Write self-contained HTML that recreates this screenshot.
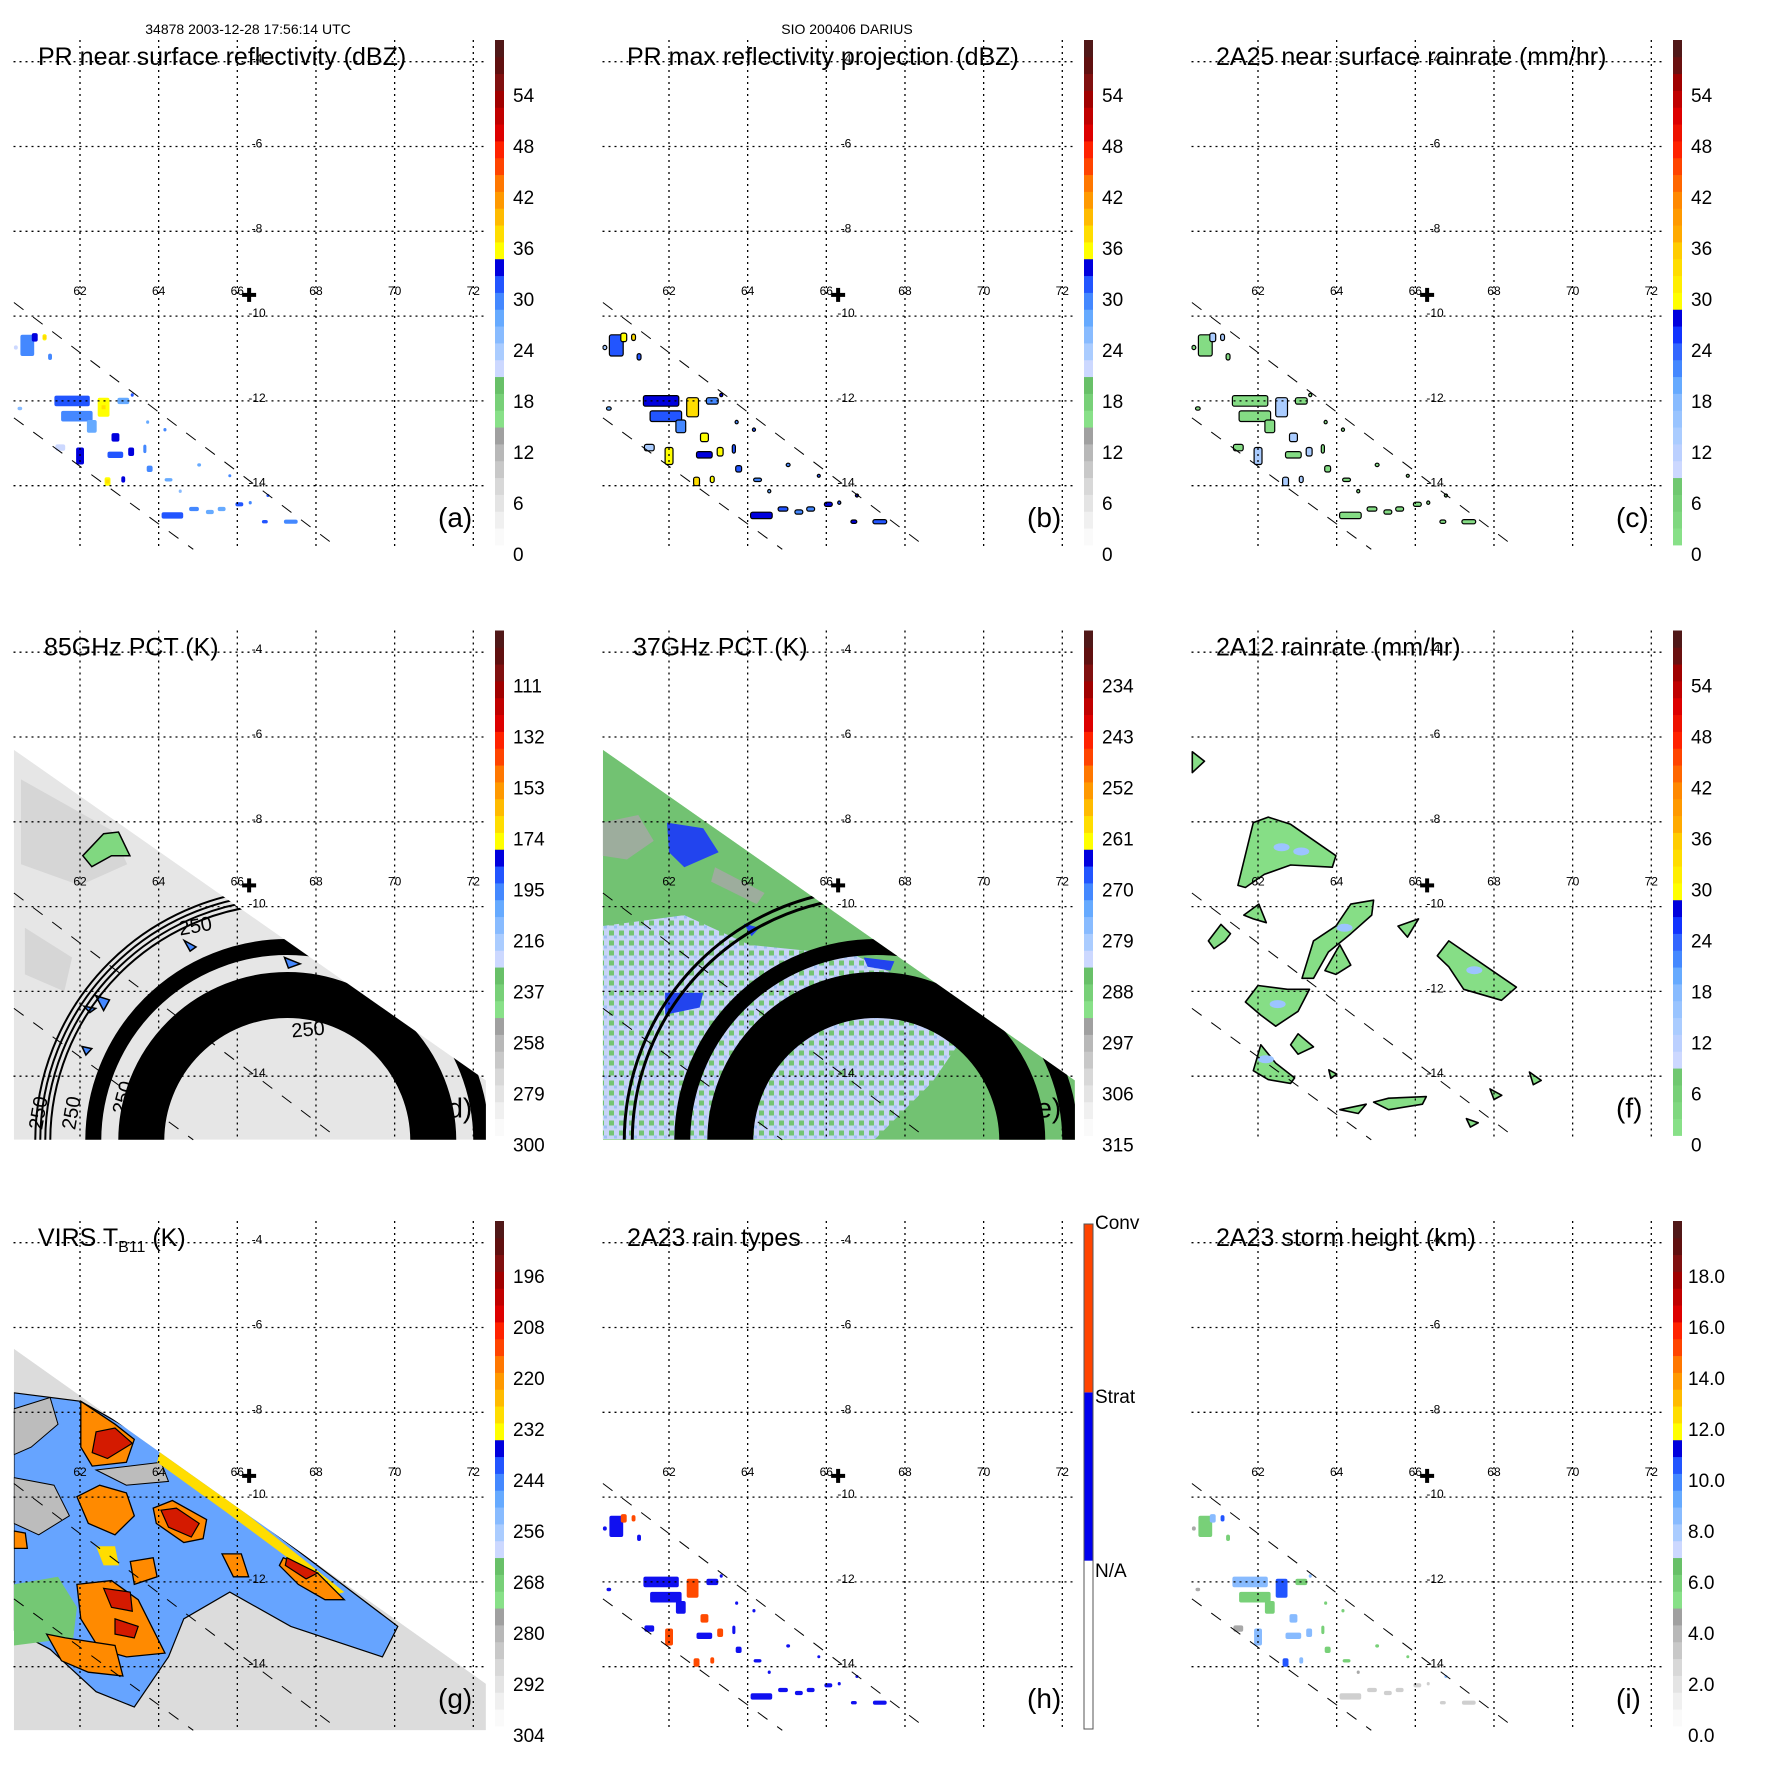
<!DOCTYPE html>
<html><head><meta charset="utf-8">
<style>
html,body{margin:0;padding:0;background:#fff;}
svg{display:block;}
text{font-family:"Liberation Sans","DejaVu Sans",sans-serif;}
</style></head>
<body>
<svg id="fig" width="1771" height="1771" viewBox="0 0 1771 1771" xmlns="http://www.w3.org/2000/svg">
<rect x="0" y="0" width="1771" height="1771" fill="#fff"/>
<text x="248" y="34" font-size="14" text-anchor="middle">34878 2003-12-28 17:56:14 UTC</text>
<text x="847" y="34" font-size="14" text-anchor="middle">SIO 200406 DARIUS</text>
<defs>
<pattern id="speck" width="10" height="10" patternUnits="userSpaceOnUse">
<rect width="10" height="10" fill="#c8d4f8"/><rect width="5" height="5" fill="#74c474"/><rect x="5" y="5" width="3" height="3" fill="#9cc0f4"/>
</pattern>
</defs>
</svg>
<script>
// ---------- data ----------
const panelLetters = ['a','b','c','d','e','f','g','h','i'];
const panelTitles = ['PR near surface reflectivity (dBZ)','PR max reflectivity projection (dBZ)','2A25 near surface rainrate (mm/hr)','85GHz PCT (K)','37GHz PCT (K)','2A12 rainrate (mm/hr)','VIRS T','2A23 rain types','2A23 storm height (km)'];
const lonTicks = [62,64,66,68,70,72];
const latTicks = [-4,-6,-8,-10,-12,-14];
const cbA = ['0','6','12','18','24','30','36','42','48','54'];
const cbD = ['300','279','258','237','216','195','174','153','132','111'];
const cbE = ['315','306','297','288','279','270','261','252','243','234'];
const cbG = ['304','292','280','268','256','244','232','220','208','196'];
const cbI = ['0.0','2.0','4.0','6.0','8.0','10.0','12.0','14.0','16.0','18.0'];
const cbH = ['N/A','Strat','Conv'];
const centerLon = 66.3, centerLat = -9.5;
const swathUpper = [[60.32,-9.68],[68.47,-15.4]];
const swathLower = [[60.32,-12.4],[64.88,-15.5]];
// PR rain cells: lon, lat, lon extent, lat extent, dBZ
const rainLon = [60.66,60.85,61.1,61.8,62.6,61.92,62.3,63.1,62.9,62.9,63.3,62.0,61.5,62.7,63.1,63.65,63.77,64.25,64.35,64.9,65.3,65.6,66.05,66.33,66.7,67.36,65.03,64.55,63.33,60.37,61.24,60.47,64.16,65.8,66.78,63.72];
const rainLat = [-10.69,-10.5,-10.5,-12.0,-12.15,-12.36,-12.6,-12.0,-12.86,-13.27,-13.2,-13.3,-13.1,-13.9,-13.85,-13.13,-13.6,-13.86,-14.7,-14.55,-14.62,-14.55,-14.44,-14.4,-14.85,-14.85,-13.51,-14.13,-11.86,-10.74,-10.96,-12.18,-12.68,-13.76,-14.22,-12.5];
const rainDLon = [.35,.15,.1,.9,.3,.8,.25,.3,.2,.4,.15,.2,.25,.15,.1,.08,.15,.2,.55,.25,.2,.2,.2,.08,.15,.35,.1,.08,.08,.1,.1,.12,.08,.06,.08,.08];
const rainDLat = [.5,.2,.15,.25,.45,.25,.3,.15,.2,.15,.2,.4,.15,.2,.15,.2,.15,.08,.15,.1,.1,.1,.1,.08,.08,.1,.08,.08,.08,.1,.15,.08,.08,.06,.05,.08];
const rainVal = [28,32,34,30,34,28,26,26,32,30,32,32,20,34,32,28,28,26,30,28,26,26,30,28,30,28,26,24,30,20,28,24,28,28,30,26];
// 2A12 rain areas (lon,lat)
const tmiRain = [
 [[61.49,-9.5],[61.88,-8.02],[62.26,-7.89],[62.83,-8.06],[63.98,-8.8],[63.89,-9.07],[62.83,-9.02],[62.16,-9.24],[61.68,-9.55]],
 [[63.12,-11.69],[63.41,-10.81],[63.98,-10.46],[64.36,-9.94],[64.94,-9.85],[64.89,-10.2],[64.36,-10.64],[63.79,-11.07],[63.41,-11.69]],
 [[66.56,-11.16],[66.85,-10.81],[68.57,-11.9],[68.19,-12.21],[67.23,-11.95],[66.85,-11.42]],
 [[61.68,-12.25],[62.0,-11.86],[62.75,-11.95],[63.31,-11.95],[63.02,-12.47],[62.45,-12.82],[62.07,-12.56]],
 [[61.88,-13.87],[62.07,-13.26],[62.45,-13.69],[62.93,-14.04],[62.83,-14.17],[62.26,-14.08]],
 [[60.74,-10.81],[61.06,-10.42],[61.3,-10.64],[61.16,-10.81],[60.88,-10.99]],
 [[61.64,-10.2],[62.02,-9.94],[62.21,-10.38],[61.88,-10.29]],
 [[63.7,-11.51],[64.08,-10.9],[64.36,-11.38],[63.98,-11.6]],
 [[64.08,-14.79],[64.75,-14.66],[64.55,-14.88]],
 [[64.94,-14.61],[65.32,-14.52],[66.28,-14.48],[66.18,-14.66],[65.32,-14.79]],
 [[62.83,-13.26],[63.02,-13.0],[63.41,-13.31],[63.02,-13.48]],
 [[65.56,-10.46],[66.08,-10.29],[65.8,-10.72]],
 [[60.33,-6.35],[60.64,-6.57],[60.33,-6.84]],
 [[67.9,-14.3],[68.2,-14.45],[68.0,-14.55]],
 [[68.9,-13.9],[69.2,-14.1],[69.0,-14.2]],
 [[67.3,-15.0],[67.6,-15.1],[67.4,-15.2]],
 [[63.8,-13.85],[64.0,-13.95],[63.85,-14.05]]
];
// moderate-rain spots inside 2A12 areas (lon, lat)
const tmiSpotLon = [62.6,63.1,64.2,67.5,62.5,62.2];
const tmiSpotLat = [-8.6,-8.7,-10.5,-11.5,-12.3,-13.6];
// TMI swath edges
const swathDE = [[60.32,-6.3],[72.32,-14.1],[72.32,-15.5],[60.32,-15.5]];
const swathG = [[60.32,-6.5],[72.32,-14.4],[72.32,-15.5],[60.32,-15.5]];
// 85GHz features
const d85Green = [[[62.07,-8.8],[62.6,-8.28],[62.98,-8.24],[63.27,-8.8],[62.8,-8.8],[62.3,-9.06]],[[62.4,-12.1],[62.75,-12.2],[62.6,-12.45]],[[62.1,-12.35],[62.4,-12.4],[62.25,-12.5]],[[62.05,-13.3],[62.3,-13.35],[62.15,-13.5]],[[64.65,-10.8],[64.95,-10.95],[64.8,-11.05]],[[67.2,-11.2],[67.6,-11.35],[67.3,-11.45]]];
const d85Dark = [[[60.5,-7.0],[62.8,-8.2],[63.2,-9.0],[62.0,-9.5],[60.5,-9.0]],[[60.6,-10.5],[61.8,-11.2],[61.6,-12.0],[60.6,-11.6]]];
// 37GHz features
const e37Gray = [[[60.3,-8.02],[61.22,-7.84],[61.61,-8.45],[60.93,-8.89],[60.3,-8.8]],[[63.17,-9.07],[64.43,-9.68],[64.23,-9.94],[63.07,-9.41]]];
const e37Light = [[60.3,-10.46],[62.39,-10.2],[64.04,-10.9],[66.76,-11.16],[68.5,-11.95],[69.67,-12.82],[68.7,-14.13],[67.24,-15.48],[60.3,-15.48]];
const e37Blue = [[[61.95,-8.02],[62.87,-8.15],[63.26,-8.72],[62.39,-9.07],[62.0,-8.72]],[[66.95,-11.2],[67.73,-11.29],[67.63,-11.51],[67.05,-11.42]],[[61.9,-12.03],[62.87,-12.03],[62.78,-12.38],[61.9,-12.55]],[[63.9,-10.4],[64.3,-10.5],[64.1,-10.7]]];
// VIRS features
const gBlue = [[60.32,-7.54],[62.02,-7.74],[64.06,-8.82],[70.08,-13.05],[69.69,-13.77],[67.36,-13.05],[65.81,-12.24],[64.64,-12.87],[64.25,-13.77],[63.38,-14.95],[62.41,-14.59],[61.24,-13.59],[60.32,-13.14]];
const gGray = [[[60.32,-7.92],[61.24,-7.65],[61.44,-8.28],[60.76,-8.82],[60.32,-9.0]],[[62.41,-9.36],[64.06,-9.18],[64.25,-9.63],[63.18,-9.72]],[[60.32,-9.54],[61.34,-9.72],[61.73,-10.44],[60.95,-10.89],[60.32,-10.62]]];
const gGreen = [[60.32,-12.06],[61.44,-11.88],[61.92,-12.6],[61.83,-13.32],[60.32,-13.5]];
const gOrange = [
 [[62.02,-7.74],[62.89,-8.28],[63.38,-8.64],[63.18,-9.18],[62.31,-9.27],[62.02,-8.82]],
 [[61.92,-9.99],[62.5,-9.72],[63.18,-9.9],[63.38,-10.44],[62.89,-10.89],[62.21,-10.62]],
 [[63.86,-10.26],[64.35,-10.08],[65.22,-10.53],[65.13,-10.98],[64.64,-11.07],[63.94,-10.62]],
 [[61.92,-12.06],[62.8,-11.97],[63.48,-12.42],[64.16,-13.68],[63.18,-13.77],[62.5,-13.59],[62.02,-12.87]],
 [[61.15,-13.23],[61.63,-13.32],[62.89,-13.5],[63.09,-14.22],[62.21,-14.13],[61.53,-13.86]],
 [[65.61,-11.34],[66.1,-11.34],[66.29,-11.88],[65.9,-11.88]],
 [[67.17,-11.43],[68.04,-11.79],[68.72,-12.42],[68.23,-12.42],[67.55,-12.06],[67.07,-11.61]],
 [[60.32,-10.8],[60.61,-10.85],[60.66,-11.21],[60.32,-11.21]],
 [[63.28,-11.52],[63.86,-11.43],[63.96,-11.88],[63.38,-12.06]]
];
const gYellow = [[[64.06,-8.82],[65.81,-10.08],[68.72,-12.24],[68.53,-12.29],[65.71,-10.35],[63.96,-9.18]],[[62.41,-11.16],[62.89,-11.16],[62.99,-11.61],[62.6,-11.61]]];
const gRed = [
 [[62.41,-8.46],[62.89,-8.37],[63.33,-8.73],[62.7,-9.09],[62.31,-8.95]],
 [[64.06,-10.31],[64.45,-10.26],[65.03,-10.62],[64.83,-10.94],[64.25,-10.71]],
 [[62.6,-12.15],[63.28,-12.24],[63.33,-12.69],[62.8,-12.6]],
 [[62.89,-12.87],[63.48,-13.05],[63.38,-13.32],[62.89,-13.23]],
 [[67.26,-11.43],[68.04,-11.79],[67.75,-11.93],[67.22,-11.61]]
];
// ---------- colormaps ----------
const stdCols = ['#fafafa','#f0f0f0','#e4e4e4','#d8d8d8','#c8c8c8','#b8b8b8','#a0a0a0','#88e088','#78d078','#68c068','#ccd8ff','#aaccff','#88bbff','#66aaff','#4488ff','#2255ff','#0000dd','#ffff00','#ffdd00','#ffbb00','#ff9900','#ff7700','#ff4400','#ff2200','#dd0000','#c00000','#a00000','#801010','#601010','#501818'];
const rrCols = ['#88e088','#80d880','#78d078','#70c870','#ccd8ff','#bbd0ff','#aaccff','#99c4ff','#88bbff','#66aaff','#4488ff','#3366ff','#1133ff','#0000dd','#ffff00','#ffee00','#ffdd00','#ffcc00','#ffaa00','#ff9900','#ff8800','#ff6600','#ff4400','#ff2200','#ee1100','#dd0000','#c00000','#a00000','#6a1010','#501818'];

const NS='http://www.w3.org/2000/svg';
const svg=document.getElementById('fig');
const PX=589, PY=590.5;
function X(lon){return 80+(lon-62)*39.33;}
function Y(lat){return 61.7+(-4-lat)*42.4;}
function mk(tag,attrs,parent){const e=document.createElementNS(NS,tag);for(const k in attrs)e.setAttribute(k,attrs[k]);parent.appendChild(e);return e;}
function pts(poly){return poly.map(p=>X(p[0]).toFixed(1)+','+Y(p[1]).toFixed(1)).join(' ');}
function stdColor(v){let i=Math.floor(v/60*30);i=Math.max(0,Math.min(29,i));return stdCols[i];}

for(let k=0;k<9;k++){
  const col=k%3,row=Math.floor(k/3);
  const g=mk('g',{transform:`translate(${col*PX},${row*PY})`},svg);
  
  
  const cp=mk('clipPath',{id:'clip'+k},g);
  mk('rect',{x:13.5,y:30,width:472.5,height:520},cp);
  const data=mk('g',{'clip-path':`url(#clip${k})`},g);
  
  

  if(k===3||k===4||k===6){
    const sw=(k===6)?swathG:swathDE;
    const scp=mk('clipPath',{id:'sw'+k},g);
    mk('polygon',{points:pts(sw)},scp);
    const sg=mk('g',{'clip-path':`url(#sw${k})`},data);
    
    
    if(k===3){
      const bg=mk('polygon',{points:pts(sw),fill:'#e6e6e6'},sg);
      
      
      d85Dark.forEach(p=>{const e=mk('polygon',{points:pts(p),fill:'#d6d6d6'},sg);
        
        });
      d85Green.forEach((p,i)=>{const e=mk('polygon',{points:pts(p),fill:i===0?'#80d880':'#4488ff',stroke:'#000','stroke-width':1.5},sg);
        
        });
    } else if(k===4){
      const bg=mk('polygon',{points:pts(sw),fill:'#72c272'},sg);
      
      
      const lb=mk('polygon',{points:pts(e37Light),fill:'url(#speck)'},sg);
      
      
      e37Gray.forEach(p=>{const e=mk('polygon',{points:pts(p),fill:'#a8a8a8',opacity:0.8},sg);
        
        });
      e37Blue.forEach(p=>{const e=mk('polygon',{points:pts(p),fill:'#2244ee'},sg);
        
        });
    } else {
      const bg=mk('polygon',{points:pts(sw),fill:'#dcdcdc'},sg);
      
      
      const b=mk('polygon',{points:pts(gBlue),fill:'#66a4ff',stroke:'#000','stroke-width':1.2},sg);
      
      
      gGray.forEach(p=>{const e=mk('polygon',{points:pts(p),fill:'#bcbcbc',stroke:'#000','stroke-width':1},sg);
        
        });
      const gr=mk('polygon',{points:pts(gGreen),fill:'#74c874'},sg);
      
      
      gYellow.forEach(p=>{const e=mk('polygon',{points:pts(p),fill:'#ffdd00'},sg);
        
        });
      gOrange.forEach(p=>{const e=mk('polygon',{points:pts(p),fill:'#ff8a00',stroke:'#000','stroke-width':1.3},sg);
        
        });
      gRed.forEach(p=>{const e=mk('polygon',{points:pts(p),fill:'#d41a00',stroke:'#000','stroke-width':1.2},sg);
        
        });
    }
    if(k===3||k===4){
      const cx=X(67.27),cy=Y(-15.67)-6;
      const rings=(k===3)?[[146,46],[194,16],[237,2],[242,2],[247,2],[252,2]]:[[146,46],[194,16],[244,3],[252,3]];
      rings.forEach(r=>{const c=mk('circle',{cx:cx,cy:cy,r:r[0],fill:'none',stroke:'#000','stroke-width':r[1]},sg);
        
        });
      if(k===3){
        [[180,345,-10],[42,540,-80],[75,540,-80],[125,525,-75],[292,447,-5]].forEach(t=>{
          const tx=mk('text',{x:t[0],y:t[1],'font-size':20,fill:'#000',transform:`rotate(${t[2]} ${t[0]} ${t[1]})`},sg);
          tx.textContent='250';
          
          
        });
      }
    }
  }
  if(k===5){
    tmiRain.forEach(p=>{const e=mk('polygon',{points:pts(p),fill:'#86de86',stroke:'#000','stroke-width':1.6,'stroke-linejoin':'round'},data);
      
      });
    for(let i=0;i<tmiSpotLon.length;i++){
      const e=mk('ellipse',{cx:X(tmiSpotLon[i]),cy:Y(tmiSpotLat[i]),rx:8,ry:4,fill:'#9cc4ff'},data);
      
      
    }
  }
  if([0,1,2,7,8].includes(k)){
    for(let i=0;i<rainLon.length;i++){
      const v=rainVal[i];
      let fill, stroke='none', sw=0;
      if(k===0) fill=stdColor(v);
      else if(k===1){fill=stdColor(v+2);stroke='#000';sw=1.2;}
      else if(k===2){fill=v>=32?'#aaccff':'#84dc84';stroke='#000';sw=1.2;}
      else if(k===7){fill=v>=32?'#ff4a00':'#1010f0';}
      else {fill=rainLat[i]<-14.3?'#cfcfcf':(v>=34?'#2255ff':(v>=30?'#88bbff':(v>=26?'#78d078':'#a8a8a8')));}
      const x0=X(rainLon[i]-rainDLon[i]/2), y0=Y(rainLat[i]+rainDLat[i]/2);
      const r=mk('rect',{x:x0.toFixed(1),y:y0.toFixed(1),width:Math.max(3,rainDLon[i]*39.33).toFixed(1),height:Math.max(3,rainDLat[i]*42.4).toFixed(1),rx:2,fill:fill,stroke:stroke,'stroke-width':sw},data);
      
      
      if(k===0&&v>=34){const c=mk('rect',{x:X(rainLon[i])-2,y:Y(rainLat[i])-2,width:4,height:4,fill:'#ffdd00'},data);
        
        }
    }
  }
  [swathUpper,swathLower].forEach(l=>{
    const e=mk('line',{x1:X(l[0][0]),y1:Y(l[0][1]),x2:X(l[1][0]),y2:Y(l[1][1]),stroke:'#000','stroke-width':1,'stroke-dasharray':'12 12'},g);
    
    
  });
  lonTicks.forEach(lon=>{
    const e=mk('line',{x1:X(lon),y1:40,x2:X(lon),y2:550,stroke:'#000','stroke-width':1.3,'stroke-dasharray':'2 4'},g);
    
    
    const t=mk('text',{x:X(lon),y:295,'font-size':12,'text-anchor':'middle'},g);
    t.textContent=String(lon);
    
    
  });
  latTicks.forEach(lat=>{
    const e=mk('line',{x1:13.5,y1:Y(lat),x2:486,y2:Y(lat),stroke:'#000','stroke-width':1.3,'stroke-dasharray':'2 4'},g);
    
    
    const t=mk('text',{x:257,y:Y(lat)+1,'font-size':12,'text-anchor':'middle'},g);
    t.textContent=String(lat);
    
    
  });
  const cx=X(centerLon),cy=Y(centerLat);
  const c1=mk('rect',{x:cx-7,y:cy-2,width:14,height:4,fill:'#000'},g);
  
  
  const c2=mk('rect',{x:cx-2,y:cy-7,width:4,height:14,fill:'#000'},g);
  
  
  const tt=mk('text',{x:(k===3||k===4)?44:38,y:65,'font-size':25},g);
  
  
  if(k===6){
    tt.appendChild(document.createTextNode('VIRS T'));
    const sub=mk('tspan',{'font-size':16,dy:6},tt);sub.textContent='B11';
    const rest=mk('tspan',{dy:-6},tt);rest.textContent=' (K)';
  } else tt.textContent=panelTitles[k];
  const lt=mk('text',{x:438,y:527,'font-size':28},g);
  lt.textContent='('+panelLetters[k]+')';
  
  
  const cb=mk('g',{},g);
  
  
  if(k===7){
    const segs=['#ffffff','#0000ee','#ff4400'];
    const top=43,bot=548,h=(bot-top)/3;
    segs.forEach((c,i)=>{const r=mk('rect',{x:495,y:bot-(i+1)*h,width:9,height:h,fill:c},cb);
      
      });
    const o=mk('rect',{x:495,y:top,width:9,height:bot-top,fill:'none',stroke:'#555','stroke-width':1},cb);
    
    
    cbH.forEach((s,i)=>{const t=mk('text',{x:506,y:[396,222,48][i],'font-size':19},cb);
      t.textContent=s;
      
      });
  } else {
    const cols=(k===2||k===5)?rrCols:stdCols;
    const top=40,bot=545,h=(bot-top)/30;
    cols.forEach((c,i)=>{const r=mk('rect',{x:495,y:(bot-(i+1)*h).toFixed(2),width:9,height:(h+0.4).toFixed(2),fill:c},cb);
      
      });
    const labs=(k===3)?cbD:(k===4)?cbE:(k===6)?cbG:(k===8)?cbI:cbA;
    labs.forEach((s,i)=>{const t=mk('text',{x:(k===8)?510:513,y:(554-i*51+7).toFixed(1),'font-size':19},cb);
      t.textContent=s;
      
      });
  }
}
</script>
</body></html>
